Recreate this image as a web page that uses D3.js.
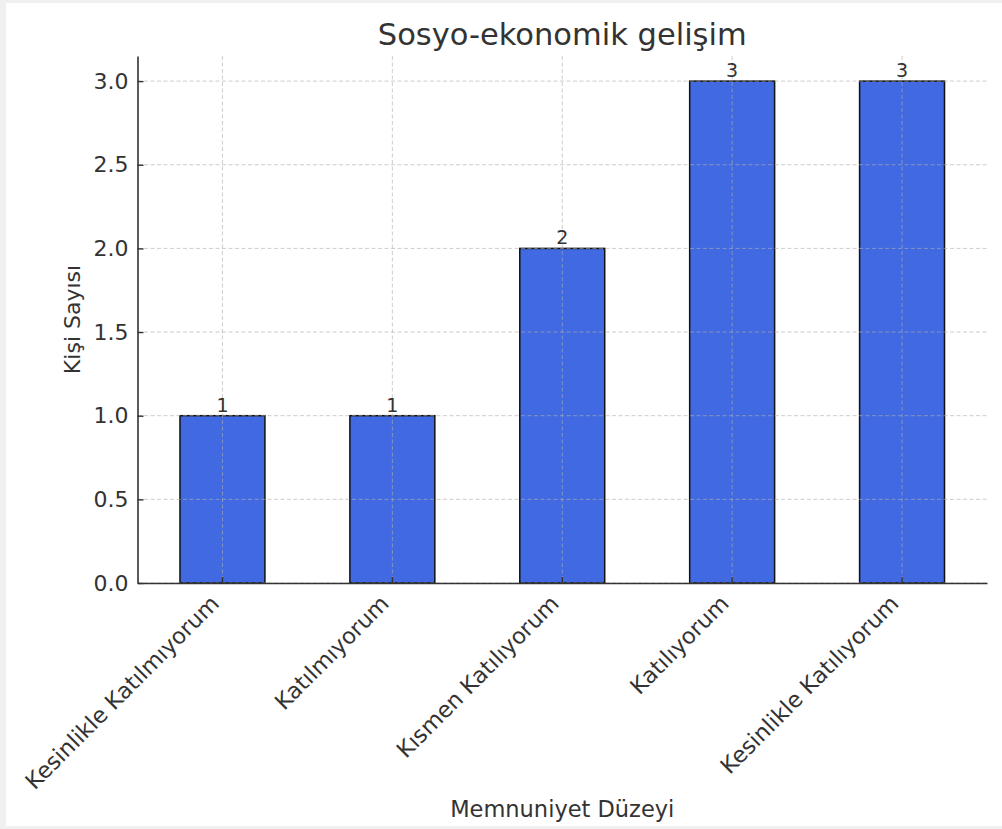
<!DOCTYPE html>
<html><head><meta charset="utf-8">
<script src="https://cdn.jsdelivr.net/npm/d3@7"></script>
<style>
html,body{margin:0;padding:0;background:#f0f0f0;}
svg{display:block;}
text{font-family:"DejaVu Sans",sans-serif;fill:#333;}
</style></head>
<body>
<svg id="c" width="1002" height="829"></svg>
<script>
const categories = ["Kesinlikle Katılmıyorum","Katılmıyorum","Kısmen Katılıyorum","Katılıyorum","Kesinlikle Katılıyorum"];
const values = [1, 1, 2, 3, 3];
const yTicks = [0.0, 0.5, 1.0, 1.5, 2.0, 2.5, 3.0];
const title = "Sosyo-ekonomik gelişim";
const xTitle = "Memnuniyet Düzeyi";
const yTitle = "Kişi Sayısı";

const svg = d3.select("#c");
svg.append("rect").attr("x",6).attr("y",3).attr("width",996).attr("height",823).attr("fill","#fff");

const L=137.5, R=987, T=56, B=583;
const x = d3.scaleBand().domain(categories).range([L,R]).paddingInner(0.5).paddingOuter(0.25);
const y = d3.scaleLinear().domain([0,3.15]).range([B,T]);

// bars
svg.append("g").selectAll("rect").data(values).join("rect")
  .attr("x",(d,i)=>x(categories[i])).attr("width",x.bandwidth())
  .attr("y",d=>y(d)).attr("height",d=>B-y(d))
  .attr("fill","#4169E1").attr("stroke","#111").attr("stroke-width",1.5);

// grid
const grid = svg.append("g").attr("stroke","#b0b0b0").attr("stroke-opacity",0.7).attr("stroke-width",0.9).attr("stroke-dasharray","4,2.5");
grid.selectAll(".gy").data(yTicks).join("line").attr("x1",L).attr("x2",R).attr("y1",d=>y(d)).attr("y2",d=>y(d));
grid.selectAll(".gx").data(categories).join("line").attr("x1",d=>x(d)+x.bandwidth()/2).attr("x2",d=>x(d)+x.bandwidth()/2).attr("y1",T).attr("y2",B);

// y axis
const yAxis = d3.axisLeft(y).tickValues(yTicks).tickFormat(d3.format(".1f")).tickSizeInner(-6).tickSizeOuter(0).tickPadding(9);
const gy = svg.append("g").attr("transform",`translate(${L},0)`).call(yAxis);
gy.select(".domain").attr("stroke","#333").attr("stroke-width",1.6);
gy.selectAll(".tick line").attr("stroke","#333").attr("stroke-width",1.4);
gy.selectAll(".tick text").style("font-size","22px").attr("fill","#222").attr("font-family","DejaVu Sans");

// x axis
const xAxis = d3.axisBottom(x).tickSizeInner(-6).tickSizeOuter(0).tickFormat("");
const gx = svg.append("g").attr("transform",`translate(0,${B})`).call(xAxis);
gx.select(".domain").attr("stroke","#333").attr("stroke-width",1.6);
gx.selectAll(".tick line").attr("stroke","#333").attr("stroke-width",1.4);
gx.selectAll(".tick").append("text")
  .text(d=>d)
  .attr("text-anchor","end")
  .attr("transform","translate(-2,22) rotate(-45)")
  .style("font-size","22.5px").attr("fill","#222").attr("font-family","DejaVu Sans");

// bar labels
svg.append("g").selectAll("text").data(values).join("text")
  .attr("x",(d,i)=>x(categories[i])+x.bandwidth()/2).attr("y",d=>y(d)-4)
  .attr("text-anchor","middle").style("font-size","19px").attr("fill","#444")
  .text(d=>d);

// titles
svg.append("text").attr("x",(L+R)/2).attr("y",45).attr("text-anchor","middle").style("font-size","30.5px").text(title);
svg.append("text").attr("x",(L+R)/2).attr("y",817).attr("text-anchor","middle").style("font-size","22.5px").attr("fill","#222").text(xTitle);
svg.append("text").attr("transform",`translate(80,${(T+B)/2}) rotate(-90)`).attr("text-anchor","middle").style("font-size","22px").attr("fill","#222").text(yTitle);
</script>
</body></html>
